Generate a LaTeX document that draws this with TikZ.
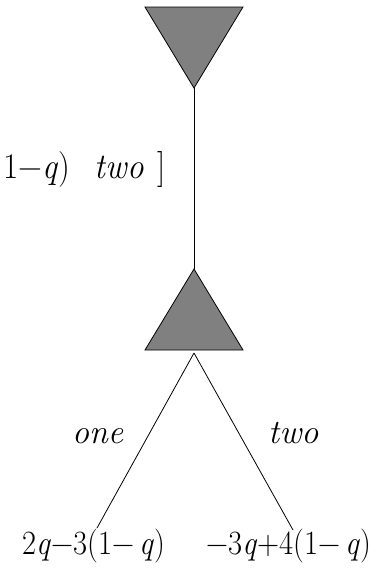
\documentclass[tikz,border=0pt]{standalone}
\usepackage{fontspec}
\usepackage{graphicx}
\begin{document}
\begin{tikzpicture}[x=1pt,y=-1pt,
  tri/.style={draw=black,fill=gray,line width=0.8pt,line join=miter},
  edge/.style={draw=black,line width=0.8pt},
  lbl/.style={inner sep=0pt,anchor=base west,font=\fontsize{34}{40}\selectfont}]
\useasboundingbox (0,0) rectangle (387,571);
% top (inverted) triangle
\coordinate (tl) at (145,7);
\coordinate (tr) at (243,7);
\coordinate (ta) at (194,88);
\draw[tri] (tl) -- (tr) -- (ta) -- cycle;
% bottom triangle
\coordinate (ba) at (194,269);
\coordinate (bl) at (145,350);
\coordinate (br) at (243,350);
\draw[tri] (ba) -- (br) -- (bl) -- cycle;
\draw[edge] (ta) -- (ba);
% branches
\coordinate (s) at (194,353);
\coordinate (l) at (97,528);
\coordinate (r) at (293,530);
\draw[edge] (s) -- (l);
\draw[edge] (s) -- (r);
% labels
\node[lbl,font=\fontsize{36}{40}\selectfont] (top) at (3,178) {\scalebox{0.92}[1]{1−\textit{q})\hspace{27pt}\textit{two}\hspace{15pt}]}};
\node[lbl] (one) at (72,443) {\textit{one}};
\node[lbl] (two) at (268,443) {\textit{two}};
\node[lbl] (pl) at (22,554) {\scalebox{0.9}[1]{2\textit{q}−3(1−\,\textit{q})}};
\node[lbl] (pr) at (206,554) {\scalebox{0.9}[1]{−3\textit{q}+4(1−\,\textit{q})}};
\end{tikzpicture}
\end{document}
